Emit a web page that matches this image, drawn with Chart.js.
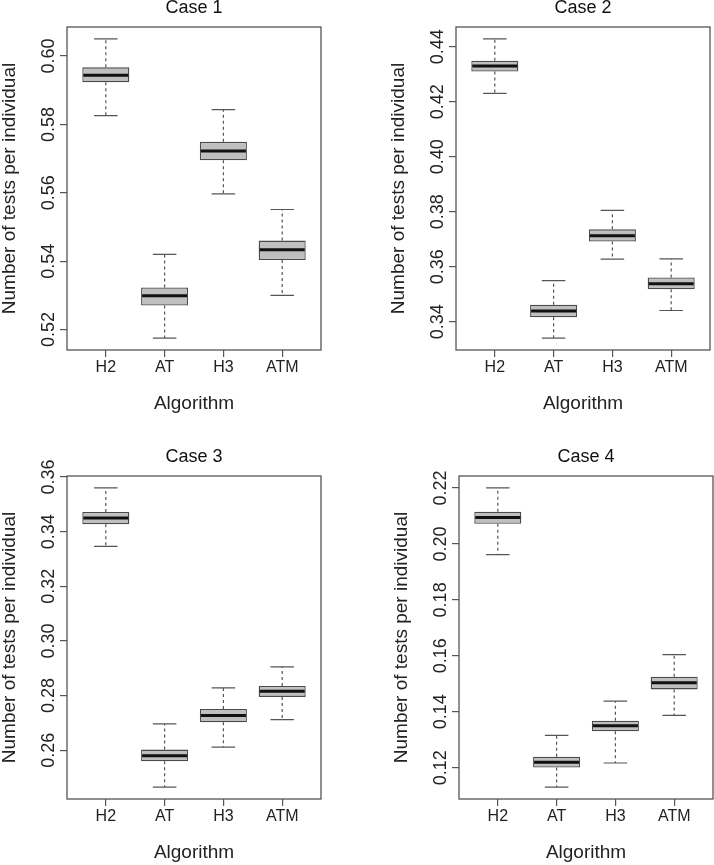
<!DOCTYPE html>
<html lang="en">
<head>
  <meta charset="UTF-8">
  <title>Number of tests per individual by algorithm</title>
  <script src="https://cdn.jsdelivr.net/npm/chart.js"></script>
  <style>
    body { margin: 0; background: #fff; }
    #wrap { position: relative; width: 714px; height: 865px; }
    .panel { position: absolute; }
  </style>
</head>
<body>
  <div id="wrap">
    <canvas id="case1" class="panel" width="357" height="430" style="left:0;top:0"></canvas>
    <canvas id="case2" class="panel" width="357" height="430" style="left:357px;top:0"></canvas>
    <canvas id="case3" class="panel" width="357" height="435" style="left:0;top:430px"></canvas>
    <canvas id="case4" class="panel" width="357" height="435" style="left:357px;top:430px"></canvas>
  </div>
  <script>
    const algorithms = ["H2", "AT", "H3", "ATM"];

    // Case 1
    const case1Min = [0.5826, 0.5175, 0.5597, 0.5300];
    const case1Q1 = [0.5923, 0.5270, 0.5695, 0.5403];
    const case1Median = [0.5944, 0.5299, 0.5722, 0.5433];
    const case1Q3 = [0.5967, 0.5323, 0.5749, 0.5460];
    const case1Max = [0.6050, 0.5420, 0.5843, 0.5551];
    const case1Ticks = [0.52, 0.54, 0.56, 0.58, 0.60];

    // Case 2
    const case2Min = [0.4230, 0.3341, 0.3628, 0.3441];
    const case2Q1 = [0.4310, 0.3417, 0.3692, 0.3518];
    const case2Median = [0.4330, 0.3439, 0.3713, 0.3538];
    const case2Q3 = [0.4349, 0.3462, 0.3736, 0.3561];
    const case2Max = [0.4428, 0.3550, 0.3805, 0.3629];
    const case2Ticks = [0.34, 0.36, 0.38, 0.40, 0.42, 0.44];

    // Case 3
    const case3Min = [0.3346, 0.2465, 0.2611, 0.2712];
    const case3Q1 = [0.3427, 0.2559, 0.2702, 0.2795];
    const case3Median = [0.3450, 0.2580, 0.2727, 0.2816];
    const case3Q3 = [0.3472, 0.2602, 0.2751, 0.2835];
    const case3Max = [0.3560, 0.2696, 0.2828, 0.2905];
    const case3Ticks = [0.26, 0.28, 0.30, 0.32, 0.34, 0.36];

    // Case 4
    const case4Min = [0.1962, 0.1131, 0.1217, 0.1387];
    const case4Q1 = [0.2072, 0.1201, 0.1330, 0.1480];
    const case4Median = [0.2094, 0.1220, 0.1350, 0.1504];
    const case4Q3 = [0.2115, 0.1239, 0.1368, 0.1525];
    const case4Max = [0.2200, 0.1316, 0.1438, 0.1604];
    const case4Ticks = [0.12, 0.14, 0.16, 0.18, 0.20, 0.22];

    const FONT = "'Liberation Sans', Arial, Helvetica, sans-serif";
    const FRAME = "#555555";

    // whiskers, caps, median line and the frame round the plot
    const boxExtras = {
      id: "boxExtras",
      afterDatasetsDraw(chart) {
        const { ctx, chartArea, scales: { x, y } } = chart;
        const st = chart.options.plugins.boxExtras;
        ctx.save();
        for (let i = 0; i < algorithms.length; i++) {
          const cx = x.getPixelForValue(i + 1);
          const cap = x.getPixelForValue(i + 1.2) - cx;
          const half = x.getPixelForValue(i + 1.4) - cx;
          const yMin = y.getPixelForValue(st.min[i]);
          const yQ1 = y.getPixelForValue(st.q1[i]);
          const yQ3 = y.getPixelForValue(st.q3[i]);
          const yMax = y.getPixelForValue(st.max[i]);
          const yMed = y.getPixelForValue(st.median[i]);

          ctx.strokeStyle = "#555555";
          ctx.lineWidth = 1.2;
          ctx.setLineDash([3, 3]);
          ctx.beginPath();
          ctx.moveTo(cx, yQ3); ctx.lineTo(cx, yMax);
          ctx.moveTo(cx, yQ1); ctx.lineTo(cx, yMin);
          ctx.stroke();

          ctx.setLineDash([]);
          ctx.beginPath();
          ctx.moveTo(cx - cap, yMax); ctx.lineTo(cx + cap, yMax);
          ctx.moveTo(cx - cap, yMin); ctx.lineTo(cx + cap, yMin);
          ctx.stroke();

          ctx.strokeStyle = "#111111";
          ctx.lineWidth = 3;
          ctx.beginPath();
          ctx.moveTo(cx - half + 1, yMed); ctx.lineTo(cx + half - 1, yMed);
          ctx.stroke();
        }
        ctx.strokeStyle = FRAME;
        ctx.lineWidth = 1.3;
        ctx.strokeRect(chartArea.left, chartArea.top, chartArea.right - chartArea.left, chartArea.bottom - chartArea.top);
        ctx.restore();
      }
    };

    function makeBoxChart(id, title, mins, q1, median, q3, maxs, ticks, geo) {
      const canvas = document.getElementById(id);
      const H = canvas.height;
      const lo = Math.min(...mins), hi = Math.max(...maxs);
      const pad = (hi - lo) * 0.04;
      const xAxisHeight = H - geo.bottom;

      return new Chart(canvas, {
        type: "bar",
        data: {
          datasets: [{
            data: algorithms.map((a, i) => ({ x: i + 1, y: [q1[i], q3[i]] })),
            backgroundColor: "#bfbfbf",
            borderColor: "#4a4a4a",
            borderWidth: 1.3,
            borderSkipped: false,
            barPercentage: 0.8,
            categoryPercentage: 1
          }]
        },
        options: {
          responsive: false,
          animation: false,
          devicePixelRatio: 1,
          layout: { padding: { left: geo.left - 67, right: 357 - geo.right, top: 0, bottom: 0 } },
          plugins: {
            legend: { display: false },
            tooltip: { enabled: false },
            title: {
              display: true,
              text: title,
              fullSize: false,
              color: "#111111",
              font: { family: FONT, size: 18, weight: "normal", lineHeight: 1 },
              padding: { top: geo.top - 27.7, bottom: 9.7 }
            },
            boxExtras: { min: mins, q1: q1, median: median, q3: q3, max: maxs }
          },
          scales: {
            x: {
              type: "linear",
              min: 0.34,
              max: 4.66,
              offset: false,
              afterBuildTicks: s => { s.ticks = algorithms.map((a, i) => ({ value: i + 1 })); },
              afterFit: s => { s.height = xAxisHeight; },
              border: { display: false },
              grid: { offset: false, drawOnChartArea: false, drawTicks: true, tickLength: 7, color: FRAME, lineWidth: 1.2 },
              ticks: {
                autoSkip: false,
                maxRotation: 0,
                padding: 1,
                color: "#222222",
                font: { family: FONT, size: 16 },
                callback: v => algorithms[Math.round(v) - 1]
              },
              title: {
                display: true,
                text: "Algorithm",
                color: "#222222",
                font: { family: FONT, size: 19, lineHeight: 1 },
                padding: { top: 0, bottom: xAxisHeight - 54 - 9.5 }
              }
            },
            y: {
              type: "linear",
              min: lo - pad,
              max: hi + pad,
              afterBuildTicks: s => { s.ticks = ticks.map(v => ({ value: v })); },
              afterFit: s => { s.width = 67; },
              border: { display: false },
              grid: { drawOnChartArea: false, drawTicks: true, tickLength: 7, color: FRAME, lineWidth: 1.2 },
              ticks: {
                autoSkip: false,
                minRotation: 90,
                maxRotation: 90,
                crossAlign: "center",
                padding: -7,
                color: "#222222",
                font: { family: FONT, size: 18 },
                callback: v => v.toFixed(2)
              },
              title: {
                display: true,
                text: "Number of tests per individual",
                color: "#222222",
                font: { family: FONT, size: 19, lineHeight: 1 },
                padding: { top: 0, bottom: 0 }
              }
            }
          }
        },
        plugins: [boxExtras]
      });
    }

    makeBoxChart("case1", "Case 1", case1Min, case1Q1, case1Median, case1Q3, case1Max, case1Ticks,
      { left: 67, right: 321, top: 27, bottom: 350 });
    makeBoxChart("case2", "Case 2", case2Min, case2Q1, case2Median, case2Q3, case2Max, case2Ticks,
      { left: 99, right: 353, top: 27, bottom: 350 });
    makeBoxChart("case3", "Case 3", case3Min, case3Q1, case3Median, case3Q3, case3Max, case3Ticks,
      { left: 67, right: 321, top: 46, bottom: 369 });
    makeBoxChart("case4", "Case 4", case4Min, case4Q1, case4Median, case4Q3, case4Max, case4Ticks,
      { left: 102, right: 356, top: 46, bottom: 369 });
  </script>
</body>
</html>
